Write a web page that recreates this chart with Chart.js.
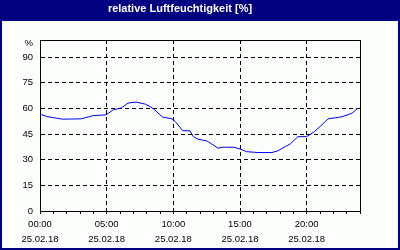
<!DOCTYPE html>
<html>
<head>
<meta charset="utf-8">
<script src="https://cdn.jsdelivr.net/npm/chart.js@4/dist/chart.umd.min.js"></script>
<style>
  html, body { margin: 0; padding: 0; background: #fcfefc; }
  canvas { display: block; }
</style>
</head>
<body>
<canvas id="chart" width="400" height="250"></canvas>
<script>
// Messwerte vom 25.02.18 (Stunden seit Mitternacht, rel. Feuchte in %)
const hours = [0, 0.6, 1.7, 3.1, 4.0, 4.95, 5.5, 6.1, 6.6, 7.2, 7.9, 8.25, 8.5, 9.2, 9.9, 10.15,
  10.7, 11.25, 11.5, 11.85, 12.5, 12.9, 13.35, 13.65, 14.5, 15.0, 15.5, 16.35, 17.4, 17.85,
  18.4, 18.75, 19.35, 20.0, 20.6, 21.4, 21.6, 22.65, 23.4, 23.85];
const humidity = [56.6, 55.1, 53.7, 53.9, 55.8, 56.2, 59.2, 60.2, 63.1, 63.7, 62.5, 61.1, 59.8, 54.9, 53.9, 52.3,
  47.0, 46.9, 43.5, 42.0, 41.0, 39.1, 36.7, 37.3, 37.3, 36.3, 34.7, 34.2, 34.2, 35.2,
  37.7, 39.1, 43.5, 43.5, 46.5, 52.3, 53.9, 55.1, 57.2, 60.2];

const yTicks = [0, 15, 30, 45, 60, 75, 90];
const yUnitAt = 98;   // Position der Einheit "%" oben an der Achse
const xLabelHours = [0, 5, 10, 15, 20];
const xTimeLabels = ['00:00', '05:00', '10:00', '15:00', '20:00'];
const xDateLabel = '25.02.18';
const title = 'relative Luftfeuchtigkeit [%]';

const NAVY = '#000080';
const tickFont = { family: 'Liberation Sans', size: 9.5, lineHeight: 1.6 };

// Rahmen, Titelbalken und Plotrahmen
const frame = {
  id: 'frame',
  beforeDraw(chart) {
    const c = chart.ctx;
    c.save();
    c.fillStyle = '#fcfefc';
    c.fillRect(0, 0, chart.width, chart.height);
    c.fillStyle = NAVY;
    c.fillRect(0, 0, chart.width, 21);
    c.strokeStyle = NAVY;
    c.lineWidth = 2;
    c.strokeRect(1, 1, chart.width - 2, chart.height - 2);
    c.restore();
  },
  afterDraw(chart) {
    const a = chart.chartArea;
    const c = chart.ctx;
    c.save();
    c.strokeStyle = '#000';
    c.lineWidth = 1;
    c.beginPath();
    c.moveTo(Math.round(a.left), Math.round(a.top) + 0.5);
    c.lineTo(Math.round(a.right) + 1, Math.round(a.top) + 0.5);
    c.moveTo(Math.round(a.right) + 0.5, Math.round(a.top));
    c.lineTo(Math.round(a.right) + 0.5, Math.round(a.bottom) + 1);
    c.stroke();
    c.restore();
  }
};

new Chart(document.getElementById('chart'), {
  type: 'line',
  data: {
    datasets: [{
      data: hours.map((h, i) => ({ x: h, y: humidity[i] })),
      borderColor: '#0000ff',
      borderWidth: 1,
      pointRadius: 0,
      tension: 0,
      fill: false
    }]
  },
  options: {
    responsive: false,
    animation: false,
    layout: { padding: { left: 0, right: 40, top: 0, bottom: 0 } },
    plugins: {
      legend: { display: false },
      tooltip: { enabled: false },
      title: {
        display: true,
        text: title,
        color: '#ffffff',
        font: { family: 'Liberation Sans', size: 11, weight: 'bold', lineHeight: 1.2 },
        padding: { top: 2.5, bottom: 24.3 }
      }
    },
    scales: {
      x: {
        type: 'linear',
        min: 0,
        max: 24,
        afterBuildTicks(scale) {
          const t = [];
          for (let h = 0; h <= 24; h++) t.push({ value: h });
          scale.ticks = t;
        },
        afterFit(scale) { scale.height = 39; },
        ticks: {
          autoSkip: false,
          maxRotation: 0,
          color: '#000',
          font: tickFont,
          padding: 3,
          callback(v) {
            const i = xLabelHours.indexOf(v);
            return i < 0 ? '' : [xTimeLabels[i], xDateLabel];
          }
        },
        grid: {
          color: ctx => (ctx.tick && ctx.tick.value % 5 === 0 && ctx.tick.value > 0 && ctx.tick.value < 24) ? '#000' : 'rgba(0,0,0,0)',
          tickColor: '#000',
          tickLength: 3,
          lineWidth: 1
        },
        border: { display: true, color: '#000', width: 1, dash: [4, 3] }
      },
      y: {
        min: 0,
        max: 100,
        afterBuildTicks(scale) {
          scale.ticks = yTicks.concat([yUnitAt]).map(v => ({ value: v }));
        },
        afterFit(scale) { scale.width = 40; },
        ticks: {
          color: '#000',
          font: tickFont,
          padding: 7,
          callback: v => (v === yUnitAt ? '%' : String(v))
        },
        grid: {
          drawTicks: false,
          color: ctx => (ctx.tick && ctx.tick.value > 0 && ctx.tick.value < yUnitAt) ? '#000' : 'rgba(0,0,0,0)',
          lineWidth: 1
        },
        border: { display: true, color: '#000', width: 1, dash: [4, 3] }
      }
    }
  },
  plugins: [frame]
});
</script>
</body>
</html>
